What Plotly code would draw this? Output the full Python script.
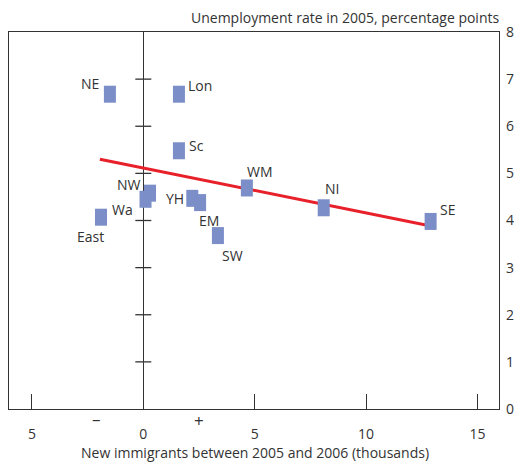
import plotly.graph_objects as go

# Data
regions = ["NE", "Lon", "Sc", "NW", "Wa", "East", "YH", "EM", "SW", "WM", "NI", "SE"]
immigrants = [-1.5, 1.6, 1.6, 0.3, 0.1, -1.9, 2.2, 2.55, 3.35, 4.65, 8.1, 12.9]
unemployment = [6.68, 6.68, 5.48, 4.58, 4.45, 4.07, 4.47, 4.38, 3.68, 4.69, 4.27, 3.98]
# label offsets (pixels) relative to each point
label_dx = [-20, 21, 18, -21, -23, -10, -17, 9, 15, 13, 8, 17]
label_dy = [11, 9, 5, 9, -10, -19, 0, -18, -20, 16, 19, 12]

trend_x = [-1.95, 12.85]
trend_y = [5.30, 3.89]

x_tickvals = [-5, 0, 5, 10, 15]
x_ticktext = ["5", "0", "5", "10", "15"]
y_tickvals = [0, 1, 2, 3, 4, 5, 6, 7, 8]

TXT = "#333333"
FONT = "Open Sans"
FS = 14
BLUE = "#7b8ec8"
RED = "#e8202a"

fig = go.Figure()

# invisible anchor trace for points
fig.add_trace(go.Scatter(x=immigrants, y=unemployment, mode="markers",
                         marker=dict(size=1, opacity=0), hoverinfo="skip",
                         showlegend=False))

shapes = []
# rectangles for points, anchored at data coordinates
for xv, yv in zip(immigrants, unemployment):
    shapes.append(dict(type="rect", xref="x", yref="y",
                       xsizemode="pixel", ysizemode="pixel",
                       xanchor=xv, yanchor=yv,
                       x0=-6, x1=6, y0=-8.5, y1=8.5,
                       fillcolor=BLUE, line=dict(width=0), layer="above"))
# cross ticks on the zero line
for yv in y_tickvals[1:-1]:
    shapes.append(dict(type="line", xref="x", yref="y",
                       xsizemode="pixel", xanchor=0, x0=-8, x1=8,
                       y0=yv, y1=yv, line=dict(color="#333333", width=1.3),
                       layer="below"))

# trend line
fig.add_trace(go.Scatter(x=trend_x, y=trend_y, mode="lines",
                         line=dict(color=RED, width=3), hoverinfo="skip",
                         showlegend=False))

annotations = []
for r, xv, yv, dx, dy in zip(regions, immigrants, unemployment, label_dx, label_dy):
    annotations.append(dict(x=xv, y=yv, xref="x", yref="y", text=r,
                            showarrow=False, xshift=dx, yshift=dy,
                            font=dict(family=FONT, size=FS, color=TXT)))

annotations += [
    dict(x=(501 - 9) / 490, y=(409 - 17) / 377, xref="paper", yref="paper",
         xanchor="right", yanchor="middle", showarrow=False,
         text="Unemployment rate in 2005, percentage points",
         font=dict(family=FONT, size=FS, color=TXT)),
    dict(x=(255 - 9) / 490, y=(409 - 453) / 377, xref="paper", yref="paper",
         xanchor="center", yanchor="middle", showarrow=False,
         text="New immigrants between 2005 and 2006 (thousands)",
         font=dict(family=FONT, size=FS, color=TXT)),
    dict(x=-2.08, y=(409 - 418) / 377, xref="x", yref="paper",
         xanchor="center", yanchor="middle", showarrow=False, text="–",
         font=dict(family=FONT, size=17, color=TXT)),
    dict(x=2.5, y=(409 - 421) / 377, xref="x", yref="paper",
         xanchor="center", yanchor="middle", showarrow=False, text="+",
         font=dict(family=FONT, size=17, color=TXT)),
]

fig.update_layout(
    width=514, height=467,
    margin=dict(l=9, r=15, t=32, b=58, autoexpand=False),
    paper_bgcolor="white", plot_bgcolor="white",
    font=dict(family=FONT, size=FS, color=TXT),
    shapes=shapes, annotations=annotations,
    xaxis=dict(range=[-6.03, 15.97], tickvals=x_tickvals, ticktext=x_ticktext,
               ticks="inside", ticklen=15, tickwidth=1.3, tickcolor="#333333",
               showline=True, mirror=True, linecolor="#333333", linewidth=1.3,
               showgrid=False, zeroline=True, zerolinecolor="#333333",
               zerolinewidth=1.3, ticklabelstandoff=12, automargin=False,
               tickfont=dict(family=FONT, size=FS, color=TXT)),
    yaxis=dict(range=[0, 8], tickvals=y_tickvals, side="right",
               ticks="", showline=True, mirror=True, linecolor="#333333",
               linewidth=1.3, showgrid=False, zeroline=False,
               ticklabelstandoff=3, automargin=False,
               tickfont=dict(family=FONT, size=FS, color=TXT)),
)

fig.write_html("out.html",
               config={"displayModeBar": False},
               post_script="document.body.style.margin='0';"
                           "document.body.style.overflow='hidden';")
